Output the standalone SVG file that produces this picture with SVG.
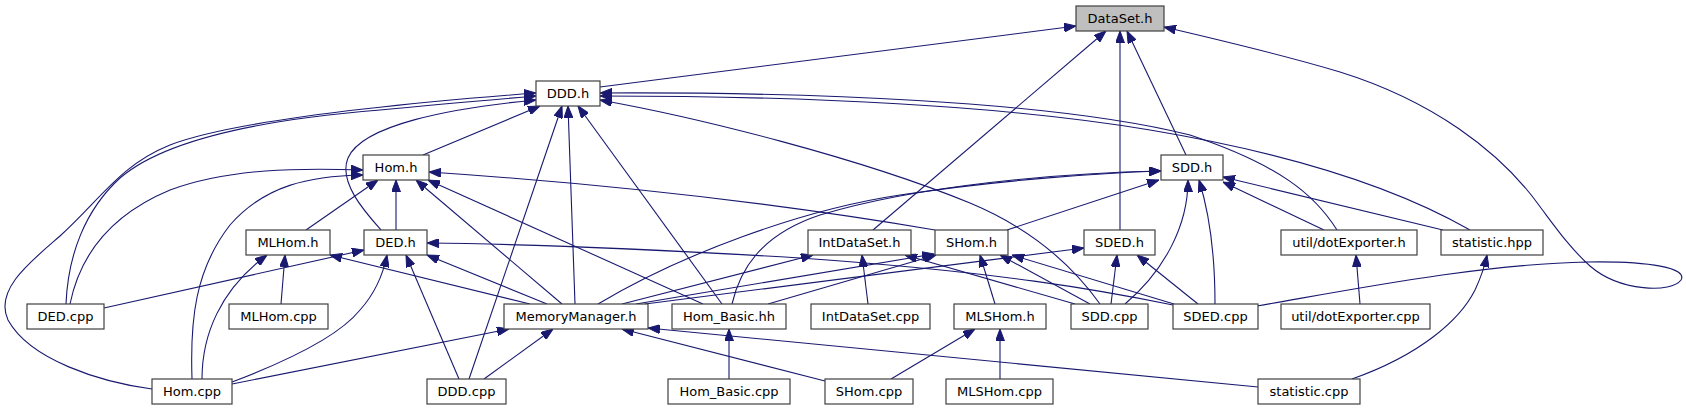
<svg xmlns="http://www.w3.org/2000/svg" width="1686" height="411" viewBox="0 0 1686 411">
<style>
.n rect{fill:#ffffff;stroke:#404040;stroke-width:1.2}
.n.root rect{fill:#bfbfbf}
.n text{font-family:"DejaVu Sans","Liberation Sans",sans-serif;font-size:13px;fill:#000;text-anchor:middle}
.e path{fill:none;stroke:#191970;stroke-width:1.1;marker-end:url(#ah)}
</style>
<defs>
<marker id="ah" markerUnits="userSpaceOnUse" markerWidth="12" markerHeight="9" viewBox="0 0 12 9" refX="12" refY="4.5" orient="auto">
<path d="M0,0 L12,4.5 L0,9 z" fill="#191970" stroke="#191970" stroke-width="1"/>
</marker>
</defs>
<rect width="1686" height="411" fill="#ffffff"/>
<g id="edges" class="e">
<!-- to DataSet.h -->
<path d="M600,87 L1076,26"/>
<path d="M873,230 L1106,31"/>
<path d="M1120,230 L1120,31"/>
<path d="M1186,155 L1127,31"/>
<path d="M1257,306 C1350,290 1480,264 1587,262 C1650,261 1688,268 1681,280 C1672,293 1620,292 1590,266 C1570,248 1556,228 1541,208 C1500,150 1430,100 1340,72 C1280,54 1220,40 1164,27"/>
<!-- to DDD.h -->
<path d="M423,155 L540,106"/>
<path d="M381,230 C365,212 338,182 348,158 C362,125 450,108 536,100"/>
<path d="M66,304 C68,255 85,210 120,178 C170,135 280,118 380,110 C440,104 500,99 536,96"/>
<path d="M152,389 C100,382 30,360 8,320 C-6,290 30,262 60,236 C100,200 120,165 170,145 C230,122 380,105 536,93"/>
<path d="M469,379 L562,106"/>
<path d="M575,304 L568,106"/>
<path d="M722,304 L578,106"/>
<path d="M1100,304 C1070,262 1030,228 970,203 C860,158 700,118 600,100"/>
<path d="M1337,230 C1315,195 1280,165 1190,135 C1050,100 800,92 600,93"/>
<path d="M1470,230 C1400,190 1300,155 1150,130 C1000,105 800,96 600,96"/>
<!-- to Hom.h -->
<path d="M306,230 L378,180"/>
<path d="M396,230 L396,180"/>
<path d="M562,304 L416,180"/>
<path d="M703,304 L428,180"/>
<path d="M935,230 Q700,190 429,172"/>
<path d="M70,304 C80,255 110,215 170,190 C230,168 300,168 363,170"/>
<path d="M192,379 C190,320 195,270 230,225 C265,185 310,176 363,175"/>
<!-- to SDD.h -->
<path d="M598,304 C680,255 800,210 900,195 C1000,180 1100,173 1161,171"/>
<path d="M732,304 C740,270 760,235 820,215 C920,185 1060,173 1161,171"/>
<path d="M1007,230 L1159,180"/>
<path d="M1125,304 C1165,270 1188,225 1188,180"/>
<path d="M1215,304 C1215,255 1210,215 1199,180"/>
<path d="M1324,230 L1223,182"/>
<path d="M1443,230 L1223,177"/>
<!-- to MLHom.h -->
<path d="M530,304 L330,255"/>
<path d="M281,304 L285,255"/>
<path d="M202,379 C202,335 220,290 267,255"/>
<!-- to DED.h -->
<path d="M104,308 L364,250"/>
<path d="M547,304 L427,255"/>
<path d="M232,382 C290,360 340,335 360,310 C378,290 384,270 387,255"/>
<path d="M459,379 L406,255"/>
<path d="M1173,305 C1100,290 1000,272 800,258 C650,249 520,244 427,243"/>
<!-- to IntDataSet.h -->
<path d="M622,304 L813,255"/>
<path d="M868,304 L862,255"/>
<path d="M1075,304 L905,255"/>
<!-- to SHom.h -->
<path d="M636,304 L934,254"/>
<path d="M768,304 L936,255"/>
<path d="M995,304 L980,255"/>
<path d="M1090,304 L1000,255"/>
<path d="M1174,304 L1012,255"/>
<!-- to SDED.h -->
<path d="M645,304 L1084,248"/>
<path d="M1111,304 L1117,255"/>
<path d="M1198,304 L1137,255"/>
<!-- to util/dotExporter.h, statistic.hpp -->
<path d="M1360,304 L1356,255"/>
<path d="M1352,379 C1420,355 1460,320 1475,290 C1482,275 1485,265 1487,255"/>
<!-- to MemoryManager.h -->
<path d="M232,384 L509,329"/>
<path d="M484,379 L553,329"/>
<path d="M825,381 L622,329"/>
<path d="M1258,387 L648,328"/>
<!-- row 4 -> row 3 others -->
<path d="M729,379 L729,329"/>
<path d="M891,379 L975,329"/>
<path d="M1000,379 L1000,329"/>
</g>
<g id="n_dataset_h" class="n root"><rect x="1076" y="6" width="88" height="25"/><text x="1120" y="23">DataSet.h</text></g>
<g id="n_ddd_h" class="n"><rect x="536" y="81" width="64" height="25"/><text x="568" y="98">DDD.h</text></g>
<g id="n_hom_h" class="n"><rect x="363" y="155" width="66" height="25"/><text x="396" y="172">Hom.h</text></g>
<g id="n_sdd_h" class="n"><rect x="1161" y="155" width="62" height="25"/><text x="1192" y="172">SDD.h</text></g>
<g id="n_mlhom_h" class="n"><rect x="246" y="230" width="84" height="25"/><text x="288" y="247">MLHom.h</text></g>
<g id="n_ded_h" class="n"><rect x="364" y="230" width="63" height="25"/><text x="395.5" y="247">DED.h</text></g>
<g id="n_intdataset_h" class="n"><rect x="808" y="230" width="103" height="25"/><text x="859.5" y="247">IntDataSet.h</text></g>
<g id="n_shom_h" class="n"><rect x="935" y="230" width="73" height="25"/><text x="971.5" y="247">SHom.h</text></g>
<g id="n_sded_h" class="n"><rect x="1084" y="230" width="71" height="25"/><text x="1119.5" y="247">SDED.h</text></g>
<g id="n_dotexporter_h" class="n"><rect x="1281" y="230" width="136" height="25"/><text x="1349" y="247">util/dotExporter.h</text></g>
<g id="n_statistic_hpp" class="n"><rect x="1441" y="230" width="102" height="25"/><text x="1492" y="247">statistic.hpp</text></g>
<g id="n_ded_cpp" class="n"><rect x="27" y="304" width="77" height="25"/><text x="65.5" y="321">DED.cpp</text></g>
<g id="n_mlhom_cpp" class="n"><rect x="229" y="304" width="99" height="25"/><text x="278.5" y="321">MLHom.cpp</text></g>
<g id="n_memorymanager_h" class="n"><rect x="504" y="304" width="144" height="25"/><text x="576" y="321">MemoryManager.h</text></g>
<g id="n_hom_basic_hh" class="n"><rect x="672" y="304" width="114" height="25"/><text x="729" y="321">Hom_Basic.hh</text></g>
<g id="n_intdataset_cpp" class="n"><rect x="811" y="304" width="119" height="25"/><text x="870.5" y="321">IntDataSet.cpp</text></g>
<g id="n_mlshom_h" class="n"><rect x="954" y="304" width="92" height="25"/><text x="1000" y="321">MLSHom.h</text></g>
<g id="n_sdd_cpp" class="n"><rect x="1071" y="304" width="77" height="25"/><text x="1109.5" y="321">SDD.cpp</text></g>
<g id="n_sded_cpp" class="n"><rect x="1173" y="304" width="85" height="25"/><text x="1215.5" y="321">SDED.cpp</text></g>
<g id="n_dotexporter_cpp" class="n"><rect x="1281" y="304" width="149" height="25"/><text x="1355.5" y="321">util/dotExporter.cpp</text></g>
<g id="n_hom_cpp" class="n"><rect x="152" y="379" width="80" height="25"/><text x="192" y="396">Hom.cpp</text></g>
<g id="n_ddd_cpp" class="n"><rect x="427" y="379" width="79" height="25"/><text x="466.5" y="396">DDD.cpp</text></g>
<g id="n_hom_basic_cpp" class="n"><rect x="668" y="379" width="122" height="25"/><text x="729" y="396">Hom_Basic.cpp</text></g>
<g id="n_shom_cpp" class="n"><rect x="825" y="379" width="88" height="25"/><text x="869" y="396">SHom.cpp</text></g>
<g id="n_mlshom_cpp" class="n"><rect x="946" y="379" width="107" height="25"/><text x="999.5" y="396">MLSHom.cpp</text></g>
<g id="n_statistic_cpp" class="n"><rect x="1258" y="379" width="102" height="25"/><text x="1309" y="396">statistic.cpp</text></g>
</svg>
